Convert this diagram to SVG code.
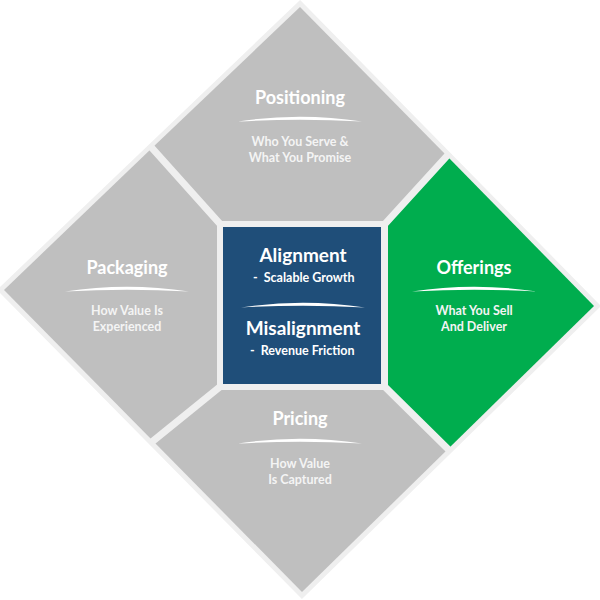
<svg xmlns="http://www.w3.org/2000/svg" width="600" height="600" viewBox="0 0 600 600">
  <style>
    .grey { fill: #bfbfbf; }
    .green { fill: #00ad4e; }
    .gap { stroke: #efefef; stroke-width: 7; fill: none; stroke-linecap: square; }
    .title { font-family: Lato, "Liberation Sans", sans-serif; font-weight: 700; font-size: 18px; fill: #ffffff; text-anchor: middle; }
    .sub { font-family: Lato, "Liberation Sans", sans-serif; font-weight: 700; font-size: 12.5px; fill: #f4f4f4; text-anchor: middle; }
    .ctitle { font-family: Lato, "Liberation Sans", sans-serif; font-weight: 700; font-size: 19px; fill: #ffffff; text-anchor: middle; }
    .csub { font-family: Lato, "Liberation Sans", sans-serif; font-weight: 700; font-size: 12.5px; fill: #ffffff; }
    .swoosh { fill: #ffffff; }
  </style>
  <rect width="600" height="600" fill="#ffffff"/>
  <!-- outer light border -->
  <polygon points="300,7 594,306 302,592 4,290" fill="#efefef" stroke="#efefef" stroke-width="10" stroke-linejoin="miter"/>

  <g id="positioning">
    <polygon class="grey" points="300,7 447,156 384,225 221,225 152,148"/>
    <text class="title" x="300" y="104">Positioning</text>
    <path class="swoosh" d="M238,121.5 Q300,112 362,121.5 Q300,118 238,121.5 Z"/>
    <text class="sub" x="300" y="146">Who You Serve &amp;</text>
    <text class="sub" x="300" y="162">What You Promise</text>
  </g>

  <g id="packaging">
    <polygon class="grey" points="4,290 152,148 221,225 221,386 153,441"/>
    <text class="title" x="127" y="274">Packaging</text>
    <path class="swoosh" d="M65,291.5 Q127,282 189,291.5 Q127,288 65,291.5 Z"/>
    <text class="sub" x="127" y="315">How Value Is</text>
    <text class="sub" x="127" y="331">Experienced</text>
  </g>

  <g id="offerings">
    <polygon class="green" points="447,156 594,306 448,449 384,386 384,225"/>
    <text class="title" x="474" y="274">Offerings</text>
    <path class="swoosh" d="M412,291.5 Q474,282 537,291.5 Q474,288 412,291.5 Z"/>
    <text class="sub" x="474" y="315">What You Sell</text>
    <text class="sub" x="474" y="331">And Deliver</text>
  </g>

  <g id="pricing">
    <polygon class="grey" points="221,386 384,386 448,449 302,592 153,441"/>
    <text class="title" x="300" y="425">Pricing</text>
    <path class="swoosh" d="M238,443.5 Q300,434 362,443.5 Q300,440 238,443.5 Z"/>
    <text class="sub" x="300" y="468">How Value</text>
    <text class="sub" x="300" y="484">Is Captured</text>
  </g>

  <g id="separators">
    <line class="gap" x1="152" y1="148" x2="221" y2="225"/>
    <line class="gap" x1="447" y1="156" x2="384" y2="225"/>
    <line class="gap" x1="448" y1="449" x2="384" y2="386"/>
    <line class="gap" x1="153" y1="441" x2="221" y2="386"/>
  </g>

  <g id="center">
    <rect x="217" y="221" width="171" height="169" fill="#efefef"/>
    <rect x="223" y="227" width="158" height="157" fill="#1f4e79"/>
    <text class="ctitle" x="303" y="262">Alignment</text>
    <text class="csub" x="253" y="282" xml:space="preserve">-  Scalable Growth</text>
    <path class="swoosh" d="M241,307.5 Q303,298 365,307.5 Q303,304 241,307.5 Z"/>
    <text class="ctitle" x="303" y="335">Misalignment</text>
    <text class="csub" x="250" y="355" xml:space="preserve">-  Revenue Friction</text>
  </g>
</svg>
